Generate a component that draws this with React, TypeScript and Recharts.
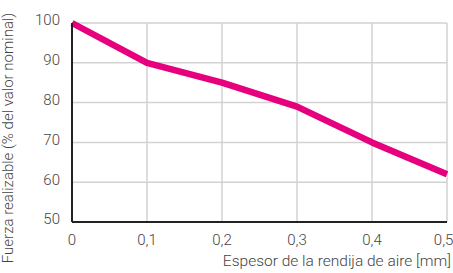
import { LineChart, Line, XAxis, YAxis, CartesianGrid, Label } from 'recharts';

const gaps = [0, 0.1, 0.2, 0.3, 0.4, 0.5];
const force = [100, 90, 85, 79, 70, 62];
const yTicks = [50, 60, 70, 80, 90, 100];

const data = gaps.map((g, i) => ({ gap: g, force: force[i] }));

const font = 'Roboto, "Liberation Sans", sans-serif';
const labelStyle = { fill: '#444', fontFamily: font, fontWeight: 300 };

const YTitle = () => (
  <text
    x={13}
    y={138}
    transform="rotate(-90 13 138)"
    textAnchor="middle"
    fontSize={15}
    style={labelStyle}
  >
    Fuerza realizable (% del valor nominal)
  </text>
);

const XTitle = () => (
  <text x={451} y={266} textAnchor="end" fontSize={15.5} style={labelStyle}>
    Espesor de la rendija de aire [mm]
  </text>
);

export default function App() {
  return (
    <div style={{ position: 'absolute', left: 0, top: 0, background: '#fff' }}>
      <LineChart width={453} height={273} data={data} margin={{ top: 23, right: 6, bottom: 0, left: 0 }}>
        <CartesianGrid stroke="#d2d2d2" strokeWidth={1.5} />
        <XAxis
          dataKey="gap"
          type="number"
          domain={[0, 0.5]}
          ticks={gaps}
          height={51}
          tickLine={false}
          axisLine={{ stroke: '#222', strokeWidth: 2 }}
          tickFormatter={(v: number) => (v === 0 ? '0' : v.toFixed(1).replace('.', ','))}
          tick={{ fontSize: 15, fill: '#444', fontFamily: font, fontWeight: 300, dy: 4 }}
        >
          <Label content={<XTitle />} />
        </XAxis>
        <YAxis
          type="number"
          domain={[50, 100]}
          ticks={yTicks}
          width={72}
          tickLine={false}
          axisLine={{ stroke: '#222', strokeWidth: 2 }}
          tick={{ fontSize: 15, fill: '#444', fontFamily: font, fontWeight: 300, dy: -3 }}
          tickMargin={6}
        >
          <Label content={<YTitle />} />
        </YAxis>
        <Line
          dataKey="force"
          stroke="#e6007e"
          strokeWidth={6.5}
          dot={false}
          isAnimationActive={false}
          strokeLinejoin="round"
        />
      </LineChart>
    </div>
  );
}
